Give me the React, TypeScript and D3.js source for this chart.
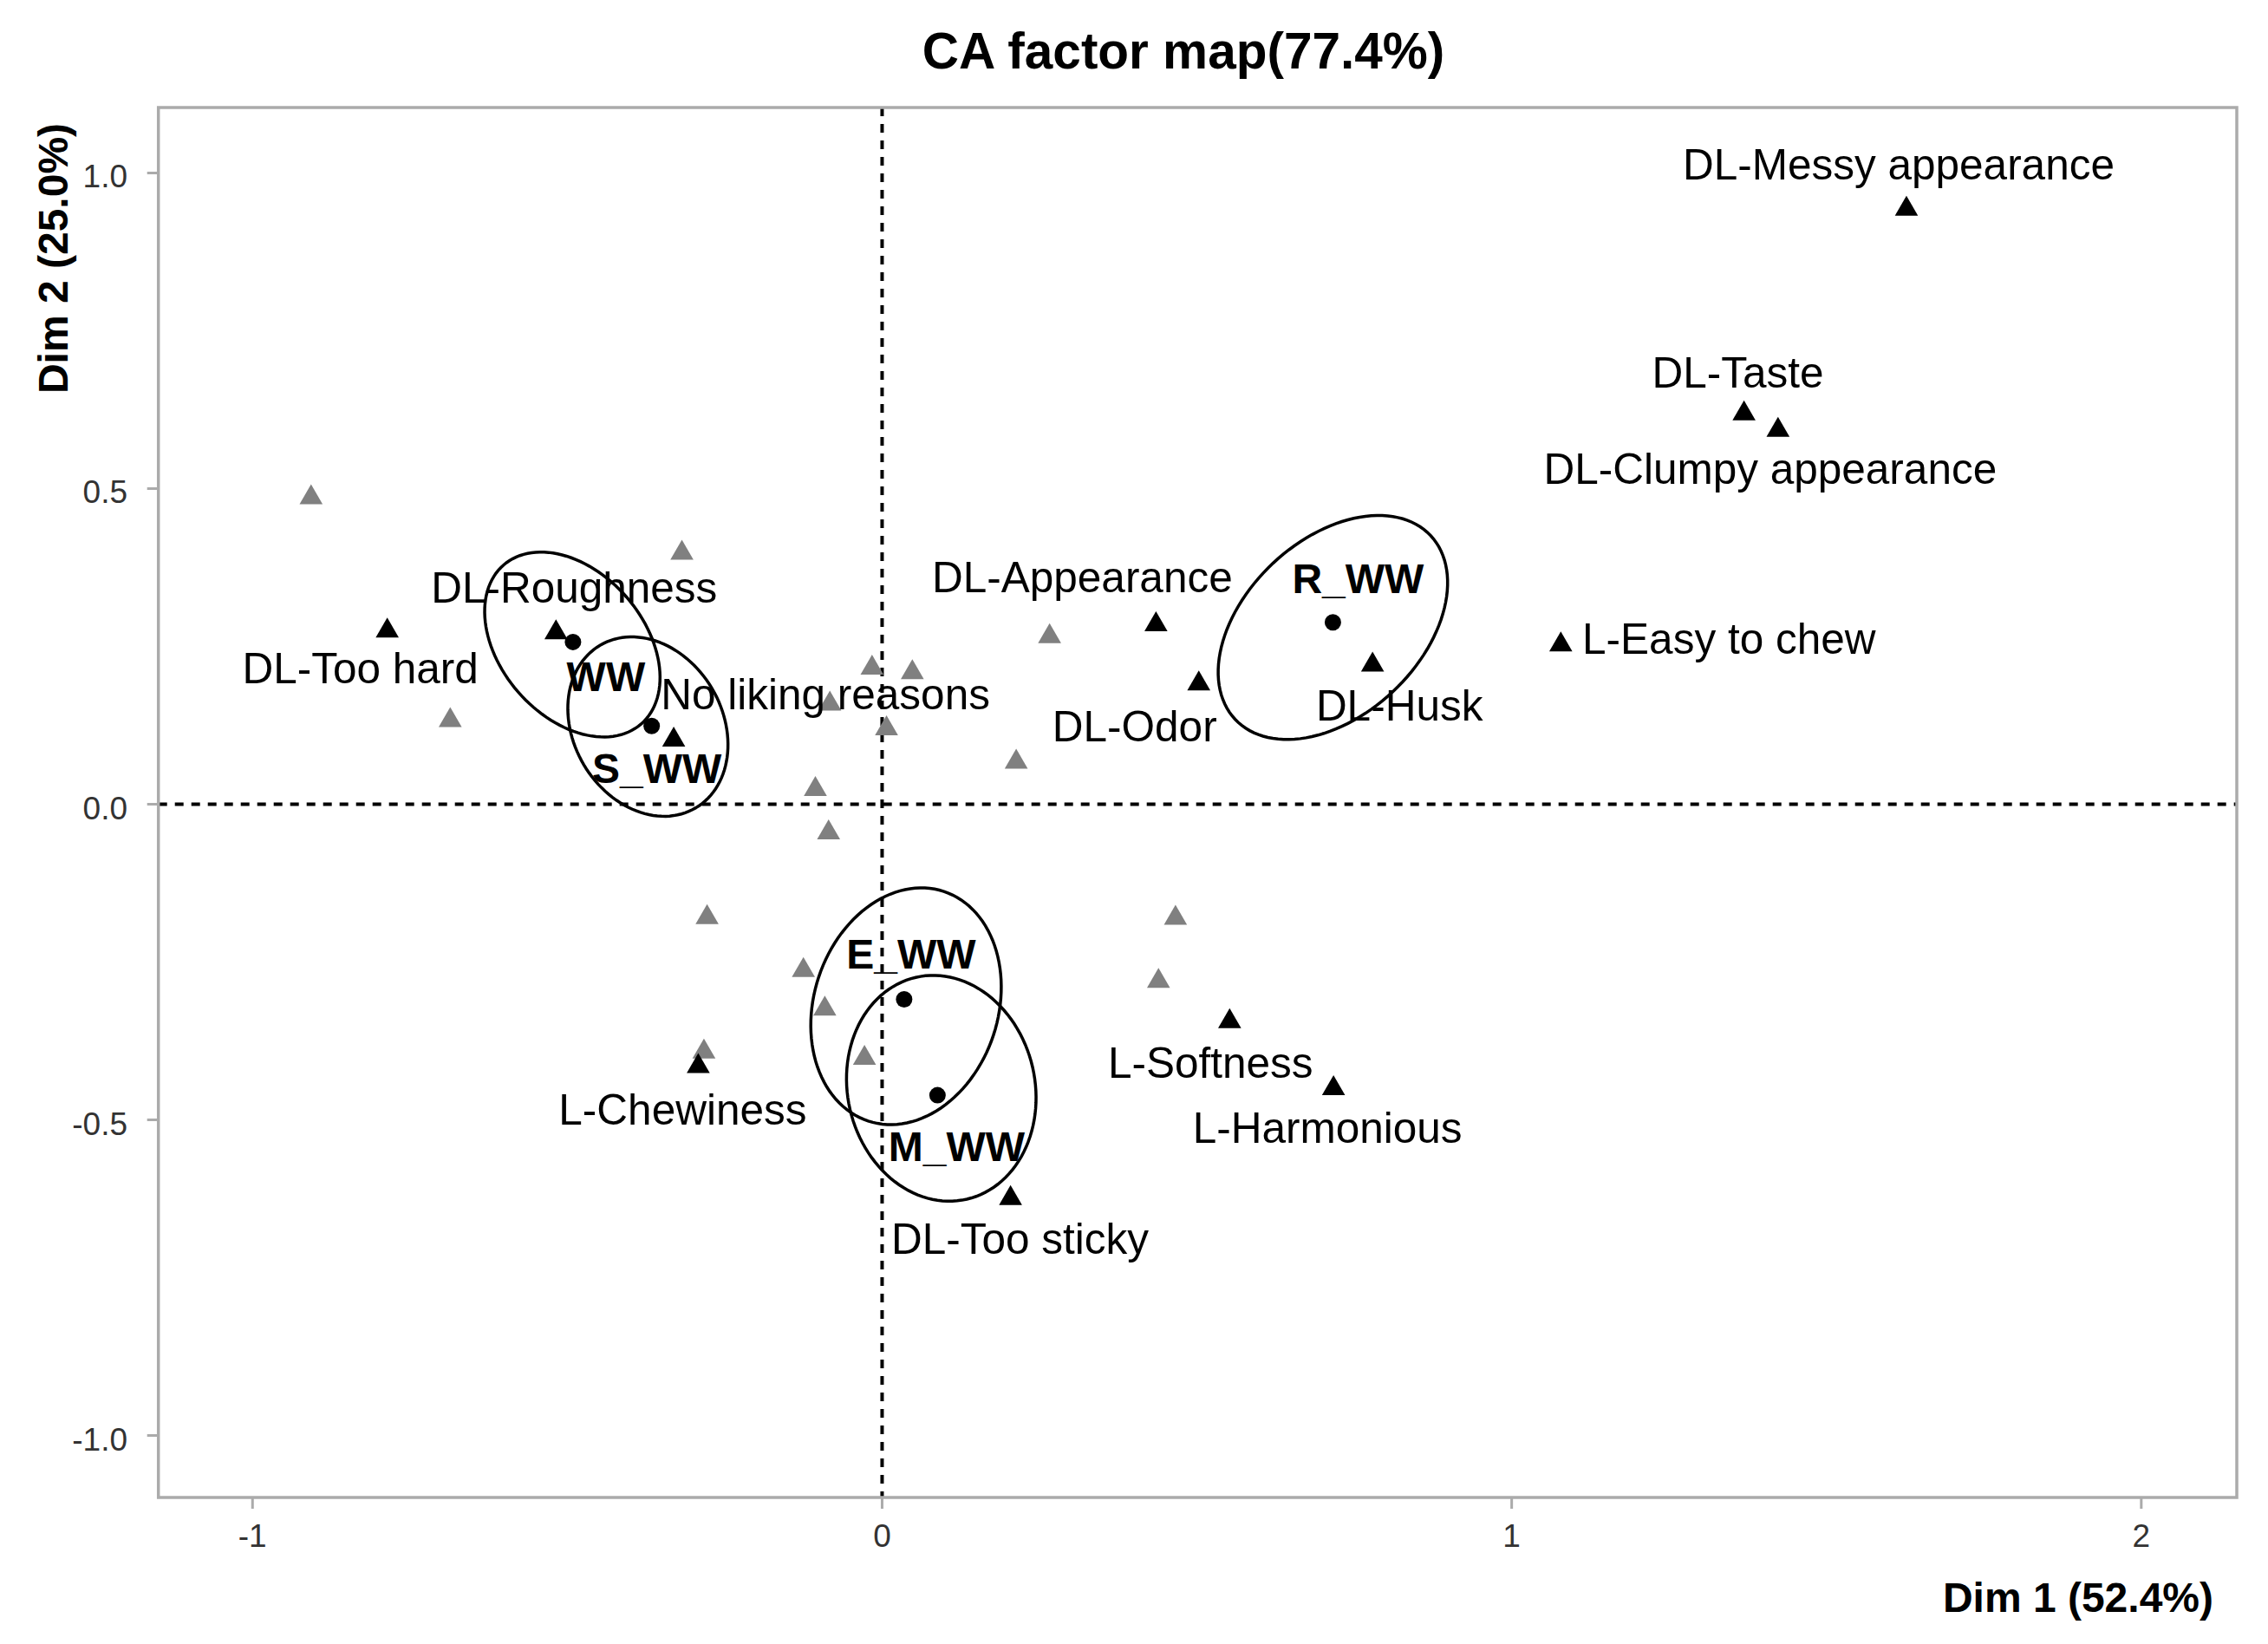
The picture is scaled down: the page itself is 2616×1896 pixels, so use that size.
import React from 'react';
import * as d3 from 'd3';

const W = 2616;
const H = 1896;

// Column categories (black triangles, labelled)
const colLabels = [
  'DL-Messy appearance', 'DL-Taste', 'DL-Clumpy appearance', 'L-Easy to chew',
  'DL-Husk', 'DL-Odor', 'DL-Appearance', 'DL-Roughness', 'DL-Too hard',
  'No liking reasons', 'L-Chewiness', 'DL-Too sticky', 'L-Softness', 'L-Harmonious',
];
const colDim1 = [1.627, 1.369, 1.423, 1.078, 0.779, 0.503, 0.435, -0.518, -0.786, -0.331, -0.292, 0.204, 0.552, 0.717];
const colDim2 = [0.948, 0.624, 0.598, 0.258, 0.226, 0.196, 0.290, 0.277, 0.280, 0.107, -0.410, -0.619, -0.339, -0.445];

// Unlabelled categories (grey triangles)
const supDim1 = [-0.907, -0.318, -0.686, -0.016, 0.048, -0.083, 0.007, 0.213, -0.106, -0.085, 0.266, -0.278, 0.466, -0.125, 0.439, -0.091, -0.283, -0.028];
const supDim2 = [0.491, 0.403, 0.138, 0.221, 0.214, 0.164, 0.125, 0.072, 0.029, -0.040, 0.271, -0.174, -0.175, -0.258, -0.275, -0.319, -0.387, -0.397];

// Row categories (black dots)
const rowLabels = ['WW', 'S_WW', 'E_WW', 'M_WW', 'R_WW'];
const rowDim1 = [-0.491, -0.366, 0.035, 0.088, 0.716];
const rowDim2 = [0.257, 0.124, -0.309, -0.461, 0.288];

// Confidence ellipses around rows
const ellCx = [-0.492, -0.372, 0.038, 0.094, 0.716];
const ellCy = [0.253, 0.123, -0.320, -0.450, 0.280];
const ellA = [0.1667, 0.1495, 0.1915, 0.1803, 0.2128];
const ellB = [0.1143, 0.1184, 0.1462, 0.1488, 0.1393];
const ellAngle = [-49, -59.4, 71.7, -77, 43.1];

const xTicks = [-1, 0, 1, 2];
const yTicks = [-1.0, -0.5, 0.0, 0.5, 1.0];

const titleText = 'CA factor map(77.4%)';
const xLabel = 'Dim 1 (52.4%)';
const yLabel = 'Dim 2 (25.0%)';

// Layout: label offsets (px) relative to their points
const colLabelDx = [-9, -7, -9, 194, 31, -74, -85, 21, -31, 175, -18, 11, -22, -7];
const colLabelDy = [-48, -44, 48, -3, 50, 52, -51, -49, 47, -49, 53, 50, 51, 49];
const rowLabelDx = [38, 6, 8, 22, 29];
const rowLabelDy = [39, 48, -53, 59, -51];

const FONT = '"Liberation Sans", Arial, Helvetica, sans-serif';

export default function App() {
  const left = 182.7, right = 2580, top = 124, bottom = 1727;
  const x = d3.scaleLinear().domain([-1.1495, 2.1517]).range([left, right]);
  const y = d3.scaleLinear().domain([-1.0982, 1.1037]).range([bottom, top]);

  const tri = (cx: number, cy: number) => {
    const p = d3.path();
    p.moveTo(cx, cy - 11.5);
    p.lineTo(cx + 13.3, cy + 11.5);
    p.lineTo(cx - 13.3, cy + 11.5);
    p.closePath();
    return p.toString();
  };

  const line = d3.line<[number, number]>().x(d => x(d[0])).y(d => y(d[1])).curve(d3.curveLinearClosed);
  const ellipsePts = (i: number): [number, number][] => {
    const th = (ellAngle[i] * Math.PI) / 180;
    return d3.range(0, 120).map(k => {
      const t = (k / 120) * 2 * Math.PI;
      const dx = ellA[i] * Math.cos(t);
      const dy = ellB[i] * Math.sin(t);
      return [ellCx[i] + dx * Math.cos(th) - dy * Math.sin(th), ellCy[i] + dx * Math.sin(th) + dy * Math.cos(th)];
    });
  };

  const labF = 49.5;
  const boldF = 48;

  return (
    <svg width={W} height={H} style={{ position: 'absolute', left: 0, top: 0, background: '#fff' }} fontFamily={FONT}>
      <rect x={0} y={0} width={W} height={H} fill="#fff" />
      <defs>
        <clipPath id="panel">
          <rect x={left} y={top} width={right - left} height={bottom - top} />
        </clipPath>
      </defs>

      {/* title */}
      <text x={1365} y={79} textAnchor="middle" fontSize={58.5} fontWeight="bold" fill="#000">{titleText}</text>

      <g clipPath="url(#panel)">
        {/* reference lines */}
        <line x1={left} x2={right} y1={y(0)} y2={y(0)} stroke="#000" strokeWidth={4} strokeDasharray="10,9" />
        <line x1={x(0)} x2={x(0)} y1={top} y2={bottom} stroke="#000" strokeWidth={4} strokeDasharray="10,9" />

        {/* ellipses */}
        {rowLabels.map((_, i) => (
          <path key={'e' + i} d={line(ellipsePts(i)) || ''} fill="none" stroke="#000" strokeWidth={3.5} />
        ))}

        {/* grey triangles */}
        {supDim1.map((v, i) => (
          <path key={'s' + i} d={tri(x(v), y(supDim2[i]))} fill="#808080" />
        ))}

        {/* black triangles */}
        {colDim1.map((v, i) => (
          <path key={'c' + i} d={tri(x(v), y(colDim2[i]))} fill="#000" />
        ))}

        {/* row dots */}
        {rowDim1.map((v, i) => (
          <circle key={'r' + i} cx={x(v)} cy={y(rowDim2[i])} r={9.5} fill="#000" />
        ))}

        {/* column labels */}
        {colLabels.map((lab, i) => (
          <text key={'cl' + i} x={x(colDim1[i]) + colLabelDx[i]} y={y(colDim2[i]) + colLabelDy[i] + 0.36 * labF}
            textAnchor="middle" fontSize={labF} fill="#000">{lab}</text>
        ))}

        {/* row labels */}
        {rowLabels.map((lab, i) => (
          <text key={'rl' + i} x={x(rowDim1[i]) + rowLabelDx[i]} y={y(rowDim2[i]) + rowLabelDy[i] + 0.36 * boldF}
            textAnchor="middle" fontSize={boldF} fontWeight="bold" fill="#000">{lab}</text>
        ))}
      </g>

      {/* panel border */}
      <rect x={left} y={top} width={right - left} height={bottom - top} fill="none" stroke="#ababab" strokeWidth={3.5} />

      {/* x axis */}
      {xTicks.map(t => (
        <g key={'xt' + t}>
          <line x1={x(t)} x2={x(t)} y1={bottom} y2={bottom + 13} stroke="#ababab" strokeWidth={3} />
          <text x={x(t)} y={1784} textAnchor="middle" fontSize={37} fill="#333">{String(t)}</text>
        </g>
      ))}

      {/* y axis */}
      {yTicks.map(t => (
        <g key={'yt' + t}>
          <line x1={left - 13} x2={left} y1={y(t)} y2={y(t)} stroke="#ababab" strokeWidth={3} />
          <text x={147} y={y(t) + 17} textAnchor="end" fontSize={37} fill="#333">{d3.format('.1f')(t).replace('\u2212', '-')}</text>
        </g>
      ))}

      {/* axis titles */}
      <text x={2553} y={1859} textAnchor="end" fontSize={48} fontWeight="bold" fill="#000">{xLabel}</text>
      <text transform="translate(78,298) rotate(-90)" textAnchor="middle" fontSize={48} fontWeight="bold" fill="#000">{yLabel}</text>
    </svg>
  );
}
